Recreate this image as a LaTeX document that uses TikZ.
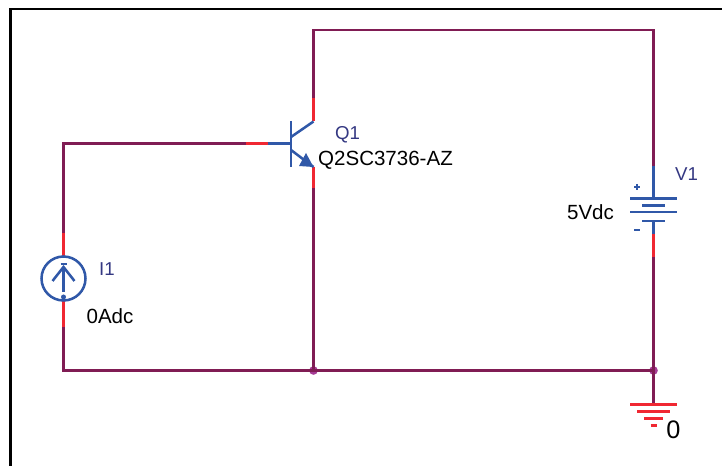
\documentclass[tikz,border=0pt]{standalone}
\usepackage{fontspec}
\usepackage{xcolor}
\setmainfont{Liberation Sans}
\definecolor{wirecol}{RGB}{128,28,84}
\definecolor{pincol}{RGB}{240,40,50}
\definecolor{partcol}{RGB}{48,88,168}
\definecolor{refcol}{RGB}{52,56,130}
\definecolor{dotcol}{RGB}{166,60,150}
\tikzset{every picture/.style={line width=0.75pt}}
\tikzset{
  wire/.style={draw=wirecol,line width=1.9pt},
  pin/.style={draw=pincol,line width=1.9pt},
  part/.style={draw=partcol,line width=1.9pt},
  gnd/.style={draw=pincol,line width=1.9pt},
  junction/.style={circle,fill=dotcol,inner sep=0pt,minimum size=6.5pt},
  reflabel/.style={text=refcol,font=\fontsize{14}{16}\selectfont,inner sep=0.75pt},
  vallabel/.style={text=black,font=\fontsize{15.4}{17}\selectfont,inner sep=0.75pt}
}

\begin{document}
\begin{tikzpicture}[x=0.75pt,y=0.75pt,yscale=-1,xscale=1]
\useasboundingbox (0,0) rectangle (722,466);

%Shape: Frame
\draw [line width=2pt] (10.5,466) -- (10.5,9) -- (722,9) ;

% Wire corners and pin ends
\coordinate (baseEnd) at (291,143.5);
\coordinate (baseBlue) at (268,143.5);
\coordinate (baseRed) at (246,143.5);
\coordinate (baseCorner) at (63.5,143.5);
\coordinate (srcTopDark) at (63.5,233);
\coordinate (srcTop) at (63.5,257);
\coordinate (srcBot) at (63.5,300);
\coordinate (srcBotDark) at (63.5,327);
\coordinate (botLeft) at (63.5,370.5);
\coordinate (colEnd) at (313.5,121.5);
\coordinate (colRed) at (313.5,98);
\coordinate (topLeft) at (313.5,30);
\coordinate (topRight) at (653.5,30);
\coordinate (batTopDark) at (653.5,166);
\coordinate (batPlus) at (653.5,198.5);
\coordinate (batMinus) at (653.5,221);
\coordinate (batBlue) at (653.5,234);
\coordinate (batRed) at (653.5,257);
\coordinate (emEnd) at (313.5,167);
\coordinate (emRed) at (313.5,188);
\node [junction] (jEmitter) at (313.5,370.5) {};
\node [junction] (jGround) at (653.5,370.5) {};
\coordinate (gndTop) at (653.5,404.5);

%Straight Lines: wires
\draw [wire] (baseRed) -- (baseCorner) -- (srcTopDark) ;
\draw [wire] (srcBotDark) -- (botLeft) -- (jGround.center) -- (gndTop) ;
\draw [wire] (colRed) -- (topLeft) -- (topRight) -- (batTopDark) ;
\draw [wire] (batRed) -- (jGround.center) ;
\draw [wire] (emRed) -- (jEmitter.center) ;

%Straight Lines: pins
\draw [pin] (baseBlue) -- (baseRed) ;
\draw [pin] (colEnd) -- (colRed) ;
\draw [pin] (emEnd) -- (emRed) ;
\draw [pin] (srcTopDark) -- (srcTop) ;
\draw [pin] (srcBot) -- (srcBotDark) ;
\draw [pin] (batBlue) -- (batRed) ;
\draw [pin] (batTopDark) -- +(0,1.5) ;

%Shape: Transistor
\draw [part] (291,121) -- (291,167) ;
\draw [part] (baseEnd) -- (baseBlue) ;
\draw [part] (291,137) -- (colEnd) ;
\draw [part] (291,150) -- (emEnd) ;
\fill [partcol] (emEnd) -- (299,166) -- (306,153) -- cycle ;

%Shape: Current source
\node [circle,draw=partcol,line width=1.9pt,minimum size=33pt,inner sep=0pt] (srcI) at (63.5,278.5) {};
\draw [part] (63.5,267) -- (63.5,292) ;
\draw [part] (52.5,281) -- (63.5,267) -- (74.5,281) ;
\draw [part] (60.5,264) -- (66.5,264) ;
\fill [partcol] (63.5,297) circle [radius=2.5] ;

%Shape: Battery
\draw [part] (batTopDark) -- (batPlus) ;
\draw [part] (630,198.5) -- (677,198.5) ;
\draw [part] (642,205.5) -- (665,205.5) ;
\draw [part] (630,212) -- (677,212) ;
\draw [part] (642,221) -- (665,221) ;
\draw [part] (batMinus) -- (batBlue) ;
\draw [part] (634,187) -- (640,187) (637,184) -- (637,190) ;
\draw [part] (634,230) -- (640,230) ;

%Shape: Ground
\draw [gnd] (630,404.5) -- (677,404.5) ;
\draw [gnd] (637,411.5) -- (670,411.5) ;
\draw [gnd] (644,418.5) -- (663,418.5) ;
\draw [gnd] (650.5,425.5) -- (656.5,425.5) ;

% Text Node
\node [reflabel] (lblQ) at (347.5,134.5) {Q1};
% Text Node
\node [vallabel] (lblQval) at (385.5,160) {Q2SC3736-AZ};
% Text Node
\node [reflabel] (lblI) at (107,269) {I1};
% Text Node
\node [vallabel] (lblIval) at (110,316.5) {0Adc};
% Text Node
\node [reflabel] (lblV) at (686.5,174.5) {V1};
% Text Node
\node [vallabel] (lblVval) at (590.5,212) {5Vdc};
% Text Node
\node [text=black,font=\fontsize{19}{21}\selectfont,inner sep=0.75pt] (lblGnd) at (673.5,430) {0};

\end{tikzpicture}
\end{document}
